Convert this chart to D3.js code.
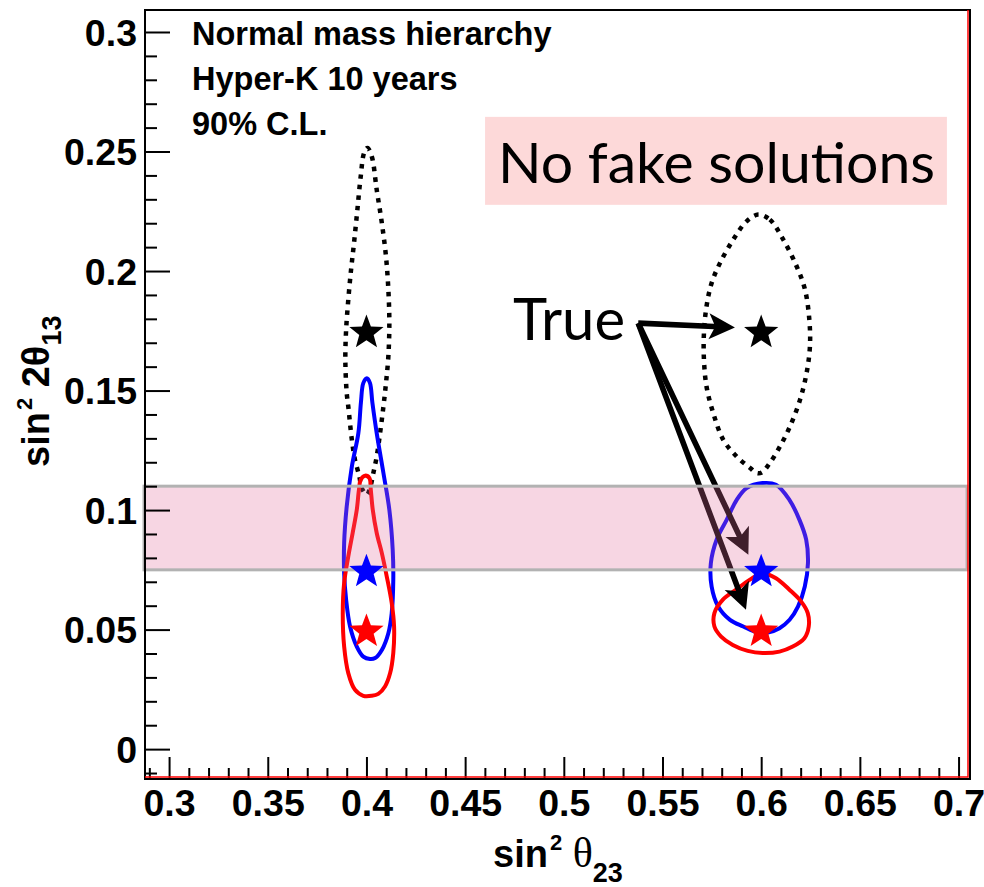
<!DOCTYPE html>
<html>
<head>
<meta charset="utf-8">
<script src="https://cdn.jsdelivr.net/npm/d3@7"></script>
<style>
  html, body { margin: 0; padding: 0; background: #ffffff; }
  svg { display: block; }
</style>
</head>
<body>
<svg id="chart" width="984" height="887"></svg>
<script>
// ---- axis ranges and ticks ----
const xDomain = [0.2878, 0.7058];
const yDomain = [-0.0125, 0.3092];
const xMajorTicks = [0.3, 0.35, 0.4, 0.45, 0.5, 0.55, 0.6, 0.65, 0.7];
const xTickLabels = ["0.3", "0.35", "0.4", "0.45", "0.5", "0.55", "0.6", "0.65", "0.7"];
const yMajorTicks = [0, 0.05, 0.1, 0.15, 0.2, 0.25, 0.3];
const yTickLabels = ["0", "0.05", "0.1", "0.15", "0.2", "0.25", "0.3"];

// ---- true parameter points (sin^2 theta23, sin^2 2theta13) ----
const trueX = [0.4, 0.4, 0.4, 0.6, 0.6, 0.6];
const trueY = [0.175, 0.075, 0.05, 0.175, 0.075, 0.05];
const trueColor = ["#000000", "#0000ff", "#ff0000", "#000000", "#0000ff", "#ff0000"];

// ---- 90% C.L. contours, [sin^2 theta23, sin^2 2theta13] ----
const blackLeft = [
  [0.4005, 0.2515], [0.4027, 0.2479], [0.4052, 0.2340], [0.4078, 0.2201], [0.4099, 0.2061],
  [0.4111, 0.1922], [0.4116, 0.1782], [0.4111, 0.1643], [0.4099, 0.1531], [0.4086, 0.1433],
  [0.4069, 0.1322], [0.4052, 0.1224], [0.4035, 0.1155], [0.4018, 0.1092], [0.4002, 0.1064],
  [0.3976, 0.1092], [0.3964, 0.1141], [0.3942, 0.1210], [0.3926, 0.1294], [0.3908, 0.1433],
  [0.3900, 0.1490], [0.3893, 0.1629], [0.3897, 0.1754], [0.3908, 0.1880], [0.3922, 0.2005],
  [0.3937, 0.2117], [0.3954, 0.2256], [0.3971, 0.2396], [0.3988, 0.2494]
];
const blueLeft = [
  [0.4002, 0.1552], [0.4018, 0.1531], [0.4030, 0.1450], [0.4052, 0.1322], [0.4086, 0.1155],
  [0.4116, 0.1001], [0.4133, 0.0834], [0.4136, 0.0708], [0.4128, 0.0569], [0.4111, 0.0485],
  [0.4078, 0.0415], [0.4044, 0.0381], [0.4018, 0.0377], [0.3984, 0.0387], [0.3951, 0.0429],
  [0.3917, 0.0513], [0.3897, 0.0625], [0.3887, 0.0736], [0.3887, 0.0862], [0.3900, 0.1015],
  [0.3926, 0.1182], [0.3959, 0.1322], [0.3972, 0.1450], [0.3984, 0.1531]
];
const redLeft = [
  [0.3993, 0.1144], [0.4015, 0.1134], [0.4022, 0.1085], [0.4032, 0.1001], [0.4052, 0.0904],
  [0.4078, 0.0820], [0.4103, 0.0722], [0.4128, 0.0611], [0.4140, 0.0513], [0.4136, 0.0402],
  [0.4120, 0.0318], [0.4094, 0.0262], [0.4060, 0.0231], [0.4027, 0.0223], [0.3984, 0.0223],
  [0.3942, 0.0248], [0.3908, 0.0318], [0.3887, 0.0429], [0.3880, 0.0569], [0.3887, 0.0695],
  [0.3908, 0.0806], [0.3930, 0.0904], [0.3951, 0.1001], [0.3962, 0.1085], [0.3971, 0.1127]
];
const blackRight = [
  [0.5985, 0.2236], [0.6044, 0.2215], [0.6112, 0.2131], [0.6180, 0.2019], [0.6222, 0.1922],
  [0.6244, 0.1796], [0.6247, 0.1685], [0.6230, 0.1573], [0.6197, 0.1462], [0.6146, 0.1350],
  [0.6095, 0.1266], [0.6044, 0.1197], [0.6003, 0.1157], [0.5977, 0.1155], [0.5944, 0.1176],
  [0.5876, 0.1224], [0.5808, 0.1294], [0.5757, 0.1406], [0.5723, 0.1517], [0.5710, 0.1629],
  [0.5710, 0.1741], [0.5723, 0.1852], [0.5749, 0.1950], [0.5791, 0.2033], [0.5858, 0.2131],
  [0.5926, 0.2208]
];
const blueRight = [
  [0.6007, 0.1113], [0.6075, 0.1106], [0.6143, 0.1043], [0.6194, 0.0959], [0.6228, 0.0876],
  [0.6237, 0.0778], [0.6221, 0.0680], [0.6187, 0.0597], [0.6144, 0.0541], [0.6093, 0.0506],
  [0.6034, 0.0488], [0.5983, 0.0487], [0.5909, 0.0513], [0.5842, 0.0541], [0.5782, 0.0597],
  [0.5749, 0.0680], [0.5745, 0.0778], [0.5774, 0.0876], [0.5825, 0.0959], [0.5876, 0.1043],
  [0.5926, 0.1092]
];
const redRight = [
  [0.6007, 0.0736], [0.6075, 0.0715], [0.6143, 0.0667], [0.6202, 0.0618], [0.6236, 0.0569],
  [0.6241, 0.0513], [0.6219, 0.0464], [0.6160, 0.0429], [0.6093, 0.0408], [0.6007, 0.0402],
  [0.5932, 0.0411], [0.5856, 0.0436], [0.5797, 0.0471], [0.5763, 0.0513], [0.5763, 0.0569],
  [0.5806, 0.0625], [0.5873, 0.0667], [0.5941, 0.0708]
];

// ---- reactor constraint band on sin^2 2theta13 ----
const bandX = [0.2873, 0.7043];
const bandY = [0.075, 0.11];

// ---- annotation anchors ----
const arrowFrom = [0.5377, 0.1782];
const arrowTips = [[0.5867, 0.1764], [0.5935, 0.0813], [0.5923, 0.0583]];
const calloutBox = [0.4601, 0.6941, 0.2645, 0.2277];   // x0, x1, yTop, yBottom
const calloutText = "No fake solutions";
const calloutAnchor = [0.4667, 0.2370];
const trueText = "True";
const trueAnchor = [0.4743, 0.1713];
const infoLines = ["Normal mass hierarchy", "Hyper-K 10 years", "90% C.L."];

// ---- layout ----
const frame = { left: 145, right: 970, top: 10, bottom: 779 };
const sansBold = "'Liberation Sans', Arial, Helvetica, sans-serif";
const humanist = "Lato, 'Open Sans', sans-serif";

const svg = d3.select("#chart");
const x = d3.scaleLinear().domain(xDomain).range([frame.left, frame.right]);
const y = d3.scaleLinear().domain(yDomain).range([frame.bottom, frame.top]);

svg.append("rect").attr("width", 984).attr("height", 887).attr("fill", "#ffffff");

// contours
const contourLine = d3.line()
  .x(d => x(d[0])).y(d => y(d[1]))
  .curve(d3.curveCatmullRomClosed.alpha(0.5));

const gContours = svg.append("g");
[blackLeft, blackRight].forEach(c => {
  gContours.append("path").attr("d", contourLine(c))
    .attr("fill", "none").attr("stroke", "#000000")
    .attr("stroke-width", 4.5).attr("stroke-dasharray", "4.5,6");
});
[blueLeft, blueRight].forEach(c => {
  gContours.append("path").attr("d", contourLine(c))
    .attr("fill", "none").attr("stroke", "#0000ff").attr("stroke-width", 4);
});
[redLeft, redRight].forEach(c => {
  gContours.append("path").attr("d", contourLine(c))
    .attr("fill", "none").attr("stroke", "#ff0000").attr("stroke-width", 4);
});

// arrows from the "True" label to the true points
function arrowPath(x0, y0, x1, y1) {
  const dx = x1 - x0, dy = y1 - y0, L = Math.hypot(dx, dy);
  const ux = dx / L, uy = dy / L, nx = -uy, ny = ux;
  const hw = 2.8, hl = 26, hh = 13, notch = 5;
  const bx = x1 - ux * hl, by = y1 - uy * hl;
  const p = [
    [x0 + nx * hw, y0 + ny * hw],
    [bx + ux * notch + nx * hw, by + uy * notch + ny * hw],
    [bx + nx * hh, by + ny * hh],
    [x1, y1],
    [bx - nx * hh, by - ny * hh],
    [bx + ux * notch - nx * hw, by + uy * notch - ny * hw],
    [x0 - nx * hw, y0 - ny * hw]
  ];
  return "M" + p.map(q => q[0].toFixed(2) + "," + q[1].toFixed(2)).join("L") + "Z";
}
const gArrows = svg.append("g");
arrowTips.forEach(t => {
  gArrows.append("path")
    .attr("d", arrowPath(x(arrowFrom[0]), y(arrowFrom[1]), x(t[0]), y(t[1])))
    .attr("fill", "#000000");
});

// band
svg.append("rect")
  .attr("x", x(bandX[0])).attr("y", y(bandY[1]))
  .attr("width", x(bandX[1]) - x(bandX[0]))
  .attr("height", y(bandY[0]) - y(bandY[1]))
  .attr("fill", "rgba(227,106,156,0.28)")
  .attr("stroke", "#b2b2b2").attr("stroke-width", 3);

// five-pointed star marker with a slightly fuller body
const fatStar = {
  draw(context, size) {
    const R = Math.sqrt(size), r = R * 0.42;
    for (let k = 0; k < 10; k++) {
      const a = -Math.PI / 2 + k * Math.PI / 5;
      const rad = k % 2 ? r : R;
      const px = rad * Math.cos(a), py = rad * Math.sin(a) + R * 0.1;
      if (k === 0) context.moveTo(px, py); else context.lineTo(px, py);
    }
    context.closePath();
  }
};

// true points
svg.append("g").selectAll("path").data(trueX).join("path")
  .attr("transform", (d, i) => `translate(${x(d)},${y(trueY[i])})`)
  .attr("d", d3.symbol().type(fatStar).size(18 * 18))
  .attr("fill", (d, i) => trueColor[i]);

// axes
const yAxis = d3.axisLeft(y).tickValues(yMajorTicks)
  .tickFormat((d, i) => yTickLabels[i]).tickSize(-25).tickSizeOuter(0).tickPadding(8);
const yMinor = d3.axisLeft(y)
  .tickValues(d3.range(-1, 31).map(k => k / 100).filter(v => Math.abs(Math.round(v * 100) % 5) !== 0))
  .tickFormat("").tickSize(-12).tickSizeOuter(0);
const xAxis = d3.axisBottom(x).tickValues(xMajorTicks)
  .tickFormat((d, i) => xTickLabels[i]).tickSize(-22).tickSizeOuter(0).tickPadding(10);
const xMinor = d3.axisBottom(x)
  .tickValues(d3.range(29, 71).map(k => k / 100).filter(v => Math.round(v * 100) % 5 !== 0))
  .tickFormat("").tickSize(-11).tickSizeOuter(0);

function styleAxis(g) {
  g.select(".domain").remove();
  g.selectAll(".tick line").attr("stroke", "#000").attr("stroke-width", 2);
  g.selectAll(".tick text")
    .attr("fill", "#000")
    .style("font-family", sansBold).style("font-weight", "bold").style("font-size", "37.5px");
}

svg.append("g").attr("transform", `translate(${frame.left},0)`).call(yMinor).call(styleAxis);
const gy = svg.append("g").attr("transform", `translate(${frame.left},0)`).call(yAxis).call(styleAxis);
gy.selectAll(".tick text").attr("dy", "0.35em");
svg.append("g").attr("transform", `translate(0,${frame.bottom})`).call(xMinor).call(styleAxis);
svg.append("g").attr("transform", `translate(0,${frame.bottom})`).call(xAxis).call(styleAxis);

// frame
svg.append("rect")
  .attr("x", frame.left).attr("y", frame.top)
  .attr("width", frame.right - frame.left).attr("height", frame.bottom - frame.top)
  .attr("fill", "none").attr("stroke", "#000").attr("stroke-width", 2);
svg.append("path")
  .attr("d", `M${frame.left},${frame.bottom - 2}H${frame.right - 2}V${frame.top}`)
  .attr("fill", "none").attr("stroke", "#ff0000").attr("stroke-width", 1.5);

// axis titles
const xTitle = svg.append("text").attr("x", 493).attr("y", 867)
  .style("font-family", sansBold).style("font-weight", "bold").attr("fill", "#000");
xTitle.append("tspan").style("font-size", "38px").text("sin");
xTitle.append("tspan").style("font-size", "22px").attr("dy", -17).attr("dx", 2).text("2");
xTitle.append("tspan").style("font-size", "38px").attr("dy", 17).text(" ");
xTitle.append("tspan").style("font-size", "42px").style("font-weight", "normal")
  .style("font-family", "'Liberation Serif', 'Times New Roman', serif").text("θ");
xTitle.append("tspan").style("font-size", "27px").attr("dy", 15).text("23");

const yTitle = svg.append("text").attr("transform", "translate(49,467) rotate(-90)")
  .style("font-family", sansBold).style("font-weight", "bold").attr("fill", "#000");
yTitle.append("tspan").style("font-size", "38px").text("sin");
yTitle.append("tspan").style("font-size", "22px").attr("dy", -17).attr("dx", 2).text("2");
yTitle.append("tspan").style("font-size", "38px").attr("dy", 17).text(" 2θ");
yTitle.append("tspan").style("font-size", "27px").attr("dy", 12).text("13");

// info text in the upper left
svg.append("g").selectAll("text").data(infoLines).join("text")
  .attr("x", 192).attr("y", (d, i) => 45 + i * 45)
  .style("font-family", sansBold).style("font-weight", "bold").style("font-size", "32.5px")
  .attr("fill", "#000").text(d => d);

// callout box
svg.append("rect")
  .attr("x", x(calloutBox[0])).attr("y", y(calloutBox[2]))
  .attr("width", x(calloutBox[1]) - x(calloutBox[0]))
  .attr("height", y(calloutBox[3]) - y(calloutBox[2]))
  .attr("fill", "#fdd9d9");
svg.append("text")
  .attr("x", x(calloutAnchor[0])).attr("y", y(calloutAnchor[1]))
  .attr("textLength", 437).attr("lengthAdjust", "spacingAndGlyphs")
  .style("font-family", humanist).style("font-size", "56px").attr("fill", "#000")
  .text(calloutText);
svg.append("text")
  .attr("x", x(trueAnchor[0])).attr("y", y(trueAnchor[1]))
  .attr("textLength", 112).attr("lengthAdjust", "spacingAndGlyphs")
  .style("font-family", humanist).style("font-size", "58px").attr("fill", "#000")
  .text(trueText);
</script>
</body>
</html>
